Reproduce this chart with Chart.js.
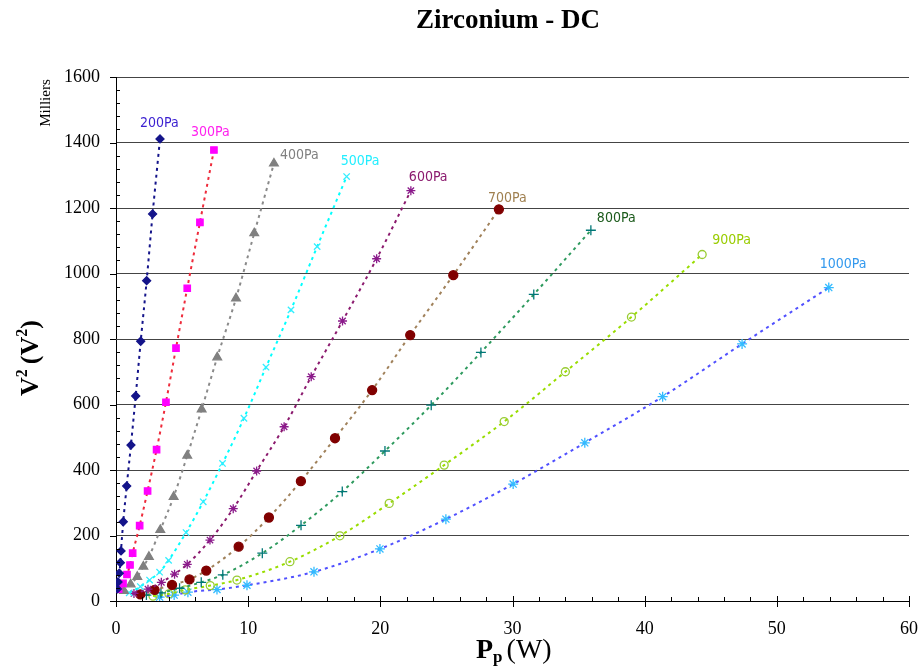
<!DOCTYPE html>
<html>
<head>
<meta charset="utf-8">
<script src="https://cdn.jsdelivr.net/npm/chart.js@4/dist/chart.umd.min.js"></script>
<style>
  html, body { margin: 0; padding: 0; background: #fff; }
  #wrap { width: 923px; height: 669px; }
</style>
</head>
<body>
<div id="wrap"><canvas id="c" width="923" height="669"></canvas></div>
<script>
// pressures (series names)
const pressures = ['200Pa', '300Pa', '400Pa', '500Pa', '600Pa', '700Pa', '800Pa', '900Pa', '1000Pa'];

// power Pp (W) per series
const p200 = [0.1, 0.15, 0.25, 0.33, 0.38, 0.55, 0.81, 1.13, 1.49, 1.87, 2.32, 2.77, 3.33];
const p300 = [0.2, 0.53, 0.83, 1.06, 1.26, 1.79, 2.39, 3.07, 3.78, 4.54, 5.39, 6.35, 7.41];
const p400 = [0.6, 1.11, 1.61, 2.07, 2.49, 3.35, 4.36, 5.39, 6.48, 7.66, 9.08, 10.46, 11.95];
const p500 = [1.0, 1.84, 2.54, 3.30, 3.98, 5.30, 6.60, 8.06, 9.68, 11.35, 13.24, 15.22, 17.45];
const p600 = [1.36, 2.42, 3.43, 4.43, 5.39, 7.11, 8.87, 10.64, 12.72, 14.77, 17.14, 19.72, 22.31];
const p700 = [1.84, 2.92, 4.24, 5.56, 6.83, 9.28, 11.57, 13.99, 16.57, 19.38, 22.26, 25.52, 28.97];
const p800 = [2.3, 3.40, 4.81, 6.45, 8.08, 11.07, 14.0, 17.12, 20.35, 23.85, 27.61, 31.61, 35.93];
const p900 = [2.8, 4.0, 5.24, 7.13, 9.15, 13.16, 16.94, 20.67, 24.83, 29.37, 34.0, 39.0, 44.35];
const p1000 = [3.3, 4.4, 5.44, 7.64, 9.91, 14.98, 19.97, 24.96, 30.05, 35.47, 41.36, 47.37, 53.93];

// V^2 (milliers de V^2) per series
const v200 = [37, 58, 85, 117, 153, 242, 351, 476, 626, 793, 978, 1182, 1411];
const v300 = [36, 54, 81, 110, 146, 230, 336, 462, 607, 772, 955, 1156, 1377];
const v400 = [31, 51, 74, 105, 135, 217, 318, 444, 585, 744, 924, 1123, 1336];
const v500 = [25, 44, 64, 88, 124, 209, 303, 420, 558, 714, 889, 1082, 1296];
const v600 = [23, 36, 57, 82, 112, 186, 282, 397, 532, 685, 855, 1045, 1253];
const v700 = [20, 34, 49, 66, 93, 166, 255, 366, 497, 644, 812, 995, 1196];
const v800 = [18, 25, 39, 57, 80, 146, 231, 334, 458, 598, 759, 936, 1132];
const v900 = [15, 22, 34, 47, 64, 120, 199, 298, 415, 548, 700, 867, 1058];
const v1000 = [12, 18, 27, 35, 48, 89, 159, 250, 357, 483, 624, 785, 957];

const xTicks = [0, 10, 20, 30, 40, 50, 60];
const yTicks = [0, 200, 400, 600, 800, 1000, 1200, 1400, 1600];

const powers = [p200, p300, p400, p500, p600, p700, p800, p900, p1000];
const volts = [v200, v300, v400, v500, v600, v700, v800, v900, v1000];

// styles: line colour, marker colour, label colour, marker, label offset
const styles = [
  { line: '#14148a', mark: '#14148a', label: '#3a1fd0', shape: 'rectRot', r: 4, fill: true, dx: -20, dy: -16 },
  { line: '#ee2b3b', mark: '#ff00ff', label: '#ff22ee', shape: 'rect', r: 4.5, fill: true, dx: -23, dy: -18 },
  { line: '#8a8a8a', mark: '#808080', label: '#808080', shape: 'triangle', r: 5, fill: true, dx: 6, dy: -8 },
  { line: '#00ffff', mark: '#33eeff', label: '#22eeff', shape: 'crossRot', r: 4.5, fill: false, dx: -6, dy: -15 },
  { line: '#8b1a6e', mark: '#8b1a8b', label: '#8b1a6e', shape: 'star', r: 4.5, fill: false, dx: -2, dy: -13 },
  { line: '#a0815a', mark: '#800000', label: '#a08050', shape: 'circle', r: 4.5, fill: true, dx: -11, dy: -11 },
  { line: '#2e9a5e', mark: '#007777', label: '#1a5a1a', shape: 'cross', r: 5, fill: false, dx: 6, dy: -12 },
  { line: '#99dd00', mark: '#99cc33', label: '#99cc00', shape: 'circle', r: 4, fill: false, dx: 10, dy: -14 },
  { line: '#5050ff', mark: '#33bbff', label: '#3399ee', shape: 'star', r: 5, fill: false, dx: -9, dy: -23 }
];

const datasets = pressures.map(function(name, i) {
  const s = styles[i];
  return {
    label: name,
    data: powers[i].map(function(x, k) { return { x: x, y: volts[i][k] }; }),
    showLine: true,
    borderColor: s.line,
    borderWidth: 2,
    borderDash: [3, 4],
    tension: 0.4,
    cubicInterpolationMode: 'monotone',
    pointStyle: s.shape,
    pointRadius: s.r,
    pointBorderColor: s.mark,
    pointBackgroundColor: s.fill ? s.mark : 'rgba(255,255,255,0)',
    pointBorderWidth: 1.3
  };
});

const serif = '"Liberation Serif", "DejaVu Serif", serif';

// titles, small ticks and pressure labels
const decor = {
  id: 'decor',
  afterDraw(chart) {
    const ctx = chart.ctx;
    const xs = chart.scales.x, ys = chart.scales.y;
    const a = chart.chartArea;
    ctx.save();
    ctx.strokeStyle = '#000';
    ctx.lineWidth = 1;
    ctx.beginPath();
    // y ticks: major outward, minor inward
    for (let v = 0; v <= 1600; v += 40) {
      const y = Math.round(ys.getPixelForValue(v)) + 0.5;
      if (v % 200 === 0) { ctx.moveTo(a.left - 6, y); ctx.lineTo(a.left, y); }
      else { ctx.moveTo(a.left, y); ctx.lineTo(a.left + 4, y); }
    }
    // x ticks: major crossing, minor inward
    for (let v = 0; v <= 60; v += 2) {
      const x = Math.round(xs.getPixelForValue(v)) + 0.5;
      if (v % 10 === 0) { ctx.moveTo(x, a.bottom - 5); ctx.lineTo(x, a.bottom + 6); }
      else { ctx.moveTo(x, a.bottom - 4); ctx.lineTo(x, a.bottom); }
    }
    ctx.stroke();

    ctx.fillStyle = '#000';
    // main title
    ctx.font = 'bold 27px ' + serif;
    ctx.textAlign = 'center';
    ctx.textBaseline = 'middle';
    ctx.fillText('Zirconium - DC', 508, 21);

    // x title: Pp (W)
    ctx.textBaseline = 'alphabetic';
    ctx.textAlign = 'left';
    let x0 = 476, yb = 658;
    ctx.font = 'bold 28px ' + serif;
    ctx.fillText('P', x0, yb);
    x0 += ctx.measureText('P').width;
    ctx.font = 'bold 17px ' + serif;
    ctx.fillText('p', x0, yb + 4);
    x0 += ctx.measureText('p').width + 4;
    ctx.font = '28px ' + serif;
    ctx.fillText('(W)', x0, yb);

    // y title: V2 (V2), rotated
    ctx.save();
    ctx.translate(38, 396);
    ctx.rotate(-Math.PI / 2);
    let t = 0;
    ctx.font = 'bold 26px ' + serif;
    ctx.fillText('V', t, 0);
    t += ctx.measureText('V').width;
    ctx.font = 'bold 16px ' + serif;
    ctx.fillText('2', t, -11);
    t += ctx.measureText('2').width + 5;
    ctx.font = 'bold 26px ' + serif;
    ctx.fillText('(V', t, 0);
    t += ctx.measureText('(V').width;
    ctx.font = 'bold 16px ' + serif;
    ctx.fillText('2', t, -11);
    t += ctx.measureText('2').width;
    ctx.font = 'bold 26px ' + serif;
    ctx.fillText(')', t, 0);
    ctx.restore();

    // display unit
    ctx.save();
    ctx.translate(50, 103);
    ctx.rotate(-Math.PI / 2);
    ctx.font = '15px ' + serif;
    ctx.textAlign = 'center';
    ctx.fillText('Milliers', 0, 0);
    ctx.restore();

    // pressure labels near last point
    ctx.font = '14px "DejaVu Sans Condensed", "DejaVu Sans", sans-serif';
    ctx.textAlign = 'left';
    ctx.textBaseline = 'middle';
    pressures.forEach(function(name, i) {
      const n = powers[i].length - 1;
      const px = xs.getPixelForValue(powers[i][n]);
      const py = ys.getPixelForValue(volts[i][n]);
      ctx.fillStyle = styles[i].label;
      ctx.fillText(name, px + styles[i].dx, py + styles[i].dy);
    });
    ctx.restore();
  }
};

new Chart(document.getElementById('c').getContext('2d'), {
  type: 'scatter',
  data: { datasets: datasets },
  options: {
    responsive: false,
    animation: false,
    layout: { padding: { left: 0, top: 77, right: 14, bottom: 0 } },
    plugins: { legend: { display: false }, tooltip: { enabled: false }, title: { display: false } },
    scales: {
      x: {
        type: 'linear', min: 0, max: 60,
        afterBuildTicks: function(s) { s.ticks = xTicks.map(function(v) { return { value: v }; }); },
        afterFit: function(s) { s.height = 68; s.paddingLeft = 0; s.paddingRight = 0; },
        grid: { display: false, drawTicks: false },
        border: { color: '#000', width: 1 },
        ticks: { color: '#000', padding: 17, font: { family: serif, size: 18 },
          callback: function(v) { return String(v); } }
      },
      y: {
        type: 'linear', min: 0, max: 1600,
        afterBuildTicks: function(s) { s.ticks = yTicks.map(function(v) { return { value: v }; }); },
        afterFit: function(s) { s.width = 116; s.paddingTop = 0; s.paddingBottom = 0; },
        grid: { color: '#444', lineWidth: 1, drawTicks: false },
        border: { color: '#000', width: 1 },
        ticks: { color: '#000', padding: 16, font: { family: serif, size: 18 },
          callback: function(v) { return String(v); } }
      }
    }
  },
  plugins: [decor]
});
</script>
</body>
</html>
